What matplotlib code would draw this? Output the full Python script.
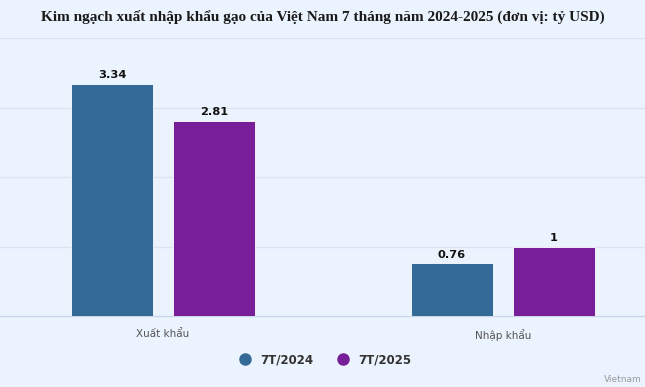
import matplotlib.pyplot as plt
import numpy as np

# ------ data ------
categories = ['Xuất khẩu', 'Nhập khẩu']
series_names = ['7T/2024', '7T/2025']
values_2024 = [3.34, 0.76]
values_2025 = [2.81, 1]
value_labels_2024 = ['3.34', '0.76']
value_labels_2025 = ['2.81', '1']

colors = ['#336A98', '#771E98']
bg = '#EBF3FE'

fig = plt.figure(figsize=(6.45, 3.87), dpi=100)
fig.patch.set_facecolor(bg)

# axes: full width, baseline at y=316px, top (4.0) at y=38px
H = 387.0
ax = fig.add_axes([0, (H - 316) / H, 1, (316 - 38) / H])
ax.set_facecolor(bg)

x = np.arange(len(categories))
w = 0.241
off = 0.15
b1 = ax.bar(x - off, values_2024, w, color=colors[0], edgecolor='white', linewidth=0.6, zorder=3)
b2 = ax.bar(x + off, values_2025, w, color=colors[1], edgecolor='white', linewidth=0.6, zorder=3)

for bars, labs in [(b1, value_labels_2024), (b2, value_labels_2025)]:
    for rect, lab in zip(bars, labs):
        ax.annotate(lab, (rect.get_x() + rect.get_width() / 2, rect.get_height()),
                    xytext=(0, 2.5), textcoords='offset points', ha='center', va='bottom',
                    fontsize=8.2, fontweight='bold', color='#111111')

ax.set_xlim(-163 / 340, (645 - 163) / 340)
ax.set_ylim(0, 4)
ax.set_yticks([1, 2, 3, 4])
ax.yaxis.grid(True, color='#dde3ec', linewidth=0.9, zorder=0)
ax.tick_params(left=False, labelleft=False, bottom=False)
for s in ['top', 'right', 'left']:
    ax.spines[s].set_visible(False)
ax.spines['bottom'].set_color('#ccd6eb')
ax.spines['bottom'].set_linewidth(1)
ax.set_xticks(x)
ax.set_xticklabels(categories, fontsize=7.5, color='#555555')
ax.tick_params(axis='x', pad=6)

fig.text(0.5, 1 - 17 / H, 'Kim ngạch xuất nhập khẩu gạo của Việt Nam 7 tháng năm 2024-2025 (đơn vị: tỷ USD)',
         ha='center', va='center', fontsize=11, fontweight='bold', family='Liberation Serif',
         color='#1a1a1a')

# legend
handles = [plt.Line2D([], [], marker='o', linestyle='', markersize=8, color=c) for c in colors]
leg = fig.legend(handles, series_names, loc='center', bbox_to_anchor=(0.5, 1 - 360 / H), ncol=2,
                 frameon=False, handletextpad=0.3, columnspacing=1.5,
                 prop={'size': 8.5, 'weight': 'bold'})
for t in leg.get_texts():
    t.set_color('#333333')

fig.text(1 - 3 / 645, 1 - 379 / H, 'Vietnam', ha='right', va='center', fontsize=6.5, color='#999999')

fig.savefig('out.png', dpi=100, facecolor=bg)
